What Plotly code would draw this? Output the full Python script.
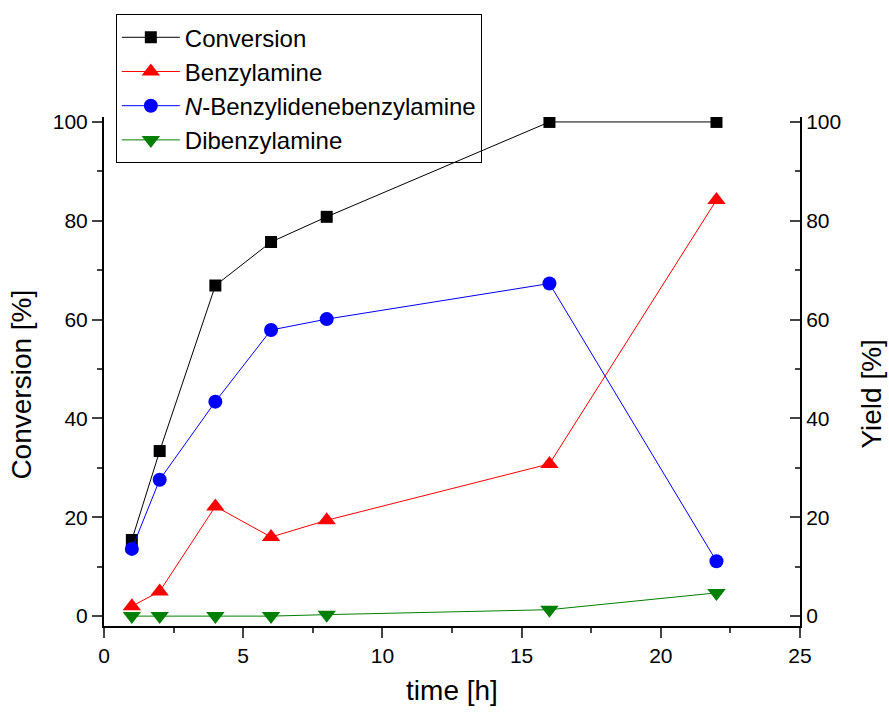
import plotly.graph_objects as go

time_h = [1, 2, 4, 6, 8, 16, 22]
conversion = [15.4, 33.4, 66.9, 75.7, 80.8, 100.0, 100.0]
benzylamine = [2.0, 5.0, 22.2, 16.0, 19.4, 30.8, 84.2]
imine = [13.6, 27.6, 43.4, 57.9, 60.1, 67.3, 11.1]
dibenzylamine = [0.0, 0.0, 0.0, 0.0, 0.3, 1.3, 4.7]

FONT = "Liberation Sans, Arial, sans-serif"

fig = go.Figure()
fig.add_trace(go.Scatter(x=time_h, y=conversion, name="Conversion", mode="lines+markers",
                         line=dict(color="black", width=1),
                         marker=dict(symbol="square", size=12, color="black")))
fig.add_trace(go.Scatter(x=time_h, y=benzylamine, name="Benzylamine", mode="lines+markers",
                         line=dict(color="red", width=1),
                         marker=dict(symbol="triangle-up", size=16, color="red")))
fig.add_trace(go.Scatter(x=time_h, y=imine, name="<i>N</i>-Benzylidenebenzylamine", mode="lines+markers",
                         line=dict(color="blue", width=1),
                         marker=dict(symbol="circle", size=14, color="blue")))
fig.add_trace(go.Scatter(x=time_h, y=dibenzylamine, name="Dibenzylamine", mode="lines+markers",
                         line=dict(color="green", width=1),
                         marker=dict(symbol="triangle-down", size=16, color="green")))
# invisible trace to activate right axis
fig.add_trace(go.Scatter(x=[None], y=[None], yaxis="y2", showlegend=False, hoverinfo="skip"))

fig.update_layout(
    width=889, height=713,
    margin=dict(l=104, r=89, t=117, b=85),
    paper_bgcolor="white", plot_bgcolor="white",
    font=dict(family=FONT, color="black", size=21),
    xaxis=dict(range=[0, 25], tickvals=[0, 5, 10, 15, 20, 25], ticks="outside", ticklen=10,
               tickwidth=1.5, showline=True, linecolor="black", linewidth=2, showgrid=False,
               zeroline=False, tickfont=dict(size=21),
               minor=dict(ticks="outside", ticklen=5, tickwidth=1.5, dtick=2.5, tick0=0, showgrid=False),
               title=dict(text="time [h]", font=dict(size=28), standoff=14)),
    yaxis=dict(range=[-2, 101], tickvals=[0, 20, 40, 60, 80, 100], ticks="outside", ticklen=10,
               tickwidth=1.5, showline=True, linecolor="black", linewidth=2, showgrid=False,
               zeroline=False, tickfont=dict(size=21),
               minor=dict(ticks="outside", ticklen=5, tickwidth=1.5, dtick=10, tick0=0, showgrid=False)),
    yaxis2=dict(range=[-2, 101], overlaying="y", side="right", tickvals=[0, 20, 40, 60, 80, 100],
                ticks="inside", ticklen=10, tickwidth=1.5, showline=True, linecolor="black",
                linewidth=2, showgrid=False, zeroline=False, tickfont=dict(size=21),
                minor=dict(ticks="inside", ticklen=5, tickwidth=1.5, dtick=10, tick0=0, showgrid=False)),
    legend=dict(x=0.017, y=1.202, xanchor="left", yanchor="top", bordercolor="black", borderwidth=1,
                bgcolor="rgba(255,255,255,0)", font=dict(size=24), itemwidth=58, tracegroupgap=0),
    showlegend=True,
    annotations=[
        dict(text="Conversion [%]", xref="paper", yref="paper", x=-0.118, y=0.474,
             textangle=-90, showarrow=False, font=dict(size=28), xanchor="center", yanchor="middle"),
        dict(text="Yield [%]", xref="paper", yref="paper", x=1.103, y=0.456,
             textangle=-90, showarrow=False, font=dict(size=28), xanchor="center", yanchor="middle"),
    ],
)

fig.write_html("out.html")
